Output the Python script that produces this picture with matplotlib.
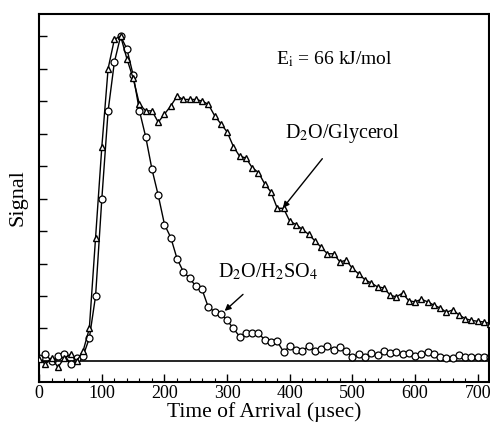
import numpy as np
import matplotlib
matplotlib.use("Agg")
import matplotlib.pyplot as plt

plt.rcParams['font.family'] = ['Liberation Serif', 'DejaVu Serif']
plt.rcParams['mathtext.fontset'] = 'stix'

# --- data (time in usec, signal normalised) ---
t = np.arange(0, 721, 10)

glycerol = [0.005, -0.01, 0.01, -0.02, 0.01, 0.02, 0.0, 0.03,
            0.10, 0.38, 0.66, 0.90, 0.99, 1.00, 0.93, 0.87,
            0.79, 0.77, 0.77, 0.735, 0.76, 0.785, 0.815, 0.805,
            0.805, 0.805, 0.80, 0.79, 0.755, 0.73, 0.705, 0.66,
            0.63, 0.625, 0.595, 0.58, 0.545, 0.52, 0.47, 0.47,
            0.43, 0.42, 0.405, 0.39, 0.37, 0.35, 0.33, 0.33,
            0.305, 0.31, 0.285, 0.268, 0.25, 0.24, 0.228, 0.225,
            0.203, 0.197, 0.209, 0.185, 0.182, 0.19, 0.182, 0.172,
            0.163, 0.15, 0.157, 0.142, 0.13, 0.125, 0.122, 0.12, 0.115]

h2so4 = [0.01, 0.02, 0.0, 0.015, 0.02, -0.01, 0.01, 0.015,
         0.07, 0.20, 0.50, 0.77, 0.92, 1.0, 0.96, 0.88,
         0.77, 0.69, 0.59, 0.51, 0.42, 0.38, 0.315, 0.275,
         0.255, 0.23, 0.22, 0.165, 0.152, 0.145, 0.125, 0.10,
         0.075, 0.085, 0.087, 0.085, 0.065, 0.058, 0.06, 0.028,
         0.045, 0.035, 0.03, 0.046, 0.032, 0.038, 0.046, 0.034,
         0.043, 0.03, 0.012, 0.02, 0.012, 0.025, 0.018, 0.03,
         0.025, 0.027, 0.02, 0.026, 0.015, 0.02, 0.028, 0.02,
         0.012, 0.01, 0.01, 0.018, 0.013, 0.012, 0.013, 0.012, 0.012]

fig = plt.figure(figsize=(4.9, 4.25), dpi=100)
ax = fig.add_axes([0.08, 0.101, 0.918, 0.866])

ax.axhline(0, color='black', lw=1.2, zorder=1)
ax.plot(t, h2so4, color='black', lw=1.0, marker='o', ms=5,
        mfc='white', mec='black', mew=0.9, zorder=2)
ax.plot(t, glycerol, color='black', lw=1.0, marker='^', ms=4.8,
        mfc='white', mec='black', mew=1.0, zorder=3)

ax.set_xlim(0, 718)
ax.set_ylim(-0.065, 1.068)
ax.set_xticks(np.arange(0, 701, 100))
ax.set_xticks(np.arange(0, 718, 20), minor=True)
ax.set_yticks(np.arange(0, 1.01, 0.1))
ax.set_yticklabels([])
ax.tick_params(axis='both', which='major', direction='in', length=6,
               width=1.0, labelsize=13)
ax.tick_params(axis='x', which='minor', direction='in', length=3, width=0.8)
ax.tick_params(axis='x', pad=2)
for s in ax.spines.values():
    s.set_linewidth(1.5)

ax.set_xlabel("Time of Arrival (\u00b5sec)", fontsize=15.5, labelpad=0)
ax.set_ylabel("Signal", fontsize=16, labelpad=5)

ax.text(471, 0.93, r"E$_\mathrm{i}$ = 66 kJ/mol", fontsize=14,
        ha='center', va='center')
ax.annotate(r"D$_2$O/Glycerol", xy=(389, 0.471), xytext=(484, 0.70),
            fontsize=14.5, ha='center', va='center',
            arrowprops=dict(arrowstyle='-|>', color='black', lw=1.0,
                            shrinkA=10, shrinkB=0, mutation_scale=9))
ax.annotate(r"D$_2$O/H$_2$SO$_4$", xy=(296, 0.154), xytext=(365, 0.274),
            fontsize=14.5, ha='center', va='center',
            arrowprops=dict(arrowstyle='-|>', color='black', lw=1.0,
                            shrinkA=10, shrinkB=0, mutation_scale=9))

fig.savefig("out.png", dpi=100)
